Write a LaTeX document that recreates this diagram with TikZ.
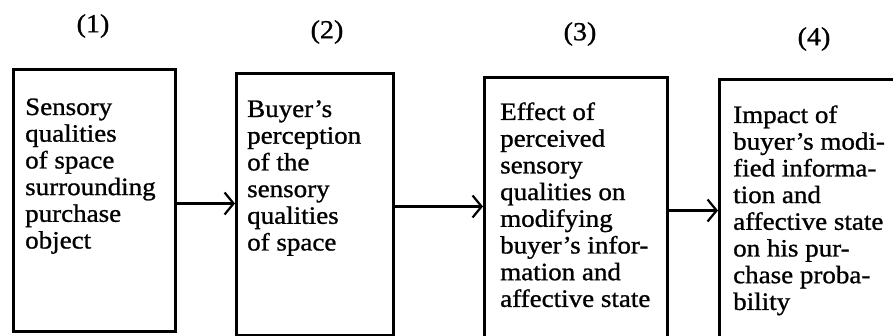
\documentclass[tikz,border=0pt]{standalone}
\usepackage{fontspec}
\setmainfont{Liberation Serif}[FakeStretch=1.08,FakeBold=1]
\usetikzlibrary{arrows.meta}
\begin{document}
\begin{tikzpicture}[x=1pt,y=1pt,
  box/.style={draw=black,line width=3pt,inner sep=0pt,anchor=north west},
  txt/.style={inner sep=0pt,anchor=base west,font=\fontsize{25}{26.7}\selectfont},
  num/.style={inner sep=0pt,font=\fontsize{26}{26}\selectfont},
  arr/.style={draw=black,line width=3pt,-{Straight Barb[length=9pt,width=22pt,line width=2.2pt]}}]
\clip (0,0) rectangle (893,-336);
\fill[white] (0,0) rectangle (893,-336);
% boxes
\node[box,minimum width=162pt,minimum height=262pt] (b1) at (12,-68) {};
\node[box,minimum width=157pt,minimum height=262pt] (b2) at (235,-72) {};
\node[box,minimum width=183pt,minimum height=262pt] (b3) at (483,-76) {};
\node[box,minimum width=190pt,minimum height=270pt] (b4) at (718,-78) {};
% numbers
\node[num] (n1) at (93,-26) {(1)};
\node[num] (n2) at (327,-32) {(2)};
\node[num] (n3) at (580,-34) {(3)};
\node[num] (n4) at (814,-39) {(4)};
% texts
\node[txt] (t1) at (25,-115) {\parbox[t]{150pt}{\fontsize{25}{26.7}\selectfont Sensory\\ qualities\\ of space\\ surrounding\\ purchase\\ object}};
\node[txt] (t2) at (247,-117) {\parbox[t]{150pt}{\fontsize{25}{26.7}\selectfont Buyer’s\\ perception\\ of the\\ sensory\\ qualities\\ of space}};
\node[txt] (t3) at (500,-120) {\parbox[t]{170pt}{\fontsize{25}{26.7}\selectfont Effect of\\ perceived\\ sensory\\ qualities on\\ modifying\\ buyer’s infor-\\ mation and\\ affective state}};
\node[txt] (t4) at (733,-123) {\parbox[t]{170pt}{\fontsize{25}{26.7}\selectfont Impact of\\ buyer’s modi-\\ fied informa-\\ tion and\\ affective state\\ on his pur-\\ chase proba-\\ bility}};
% arrows
\path ([yshift=-3pt]b1.east) coordinate (a1);
\path ([yshift=-2pt]b2.east) coordinate (a2);
\path ([yshift=-2pt]b3.east) coordinate (a3);
\draw[arr] (a1) -- (a1 -| b2.west);
\draw[arr] (a2) -- (a2 -| b3.west);
\draw[arr] (a3) -- (a3 -| b4.west);
\end{tikzpicture}
\end{document}
